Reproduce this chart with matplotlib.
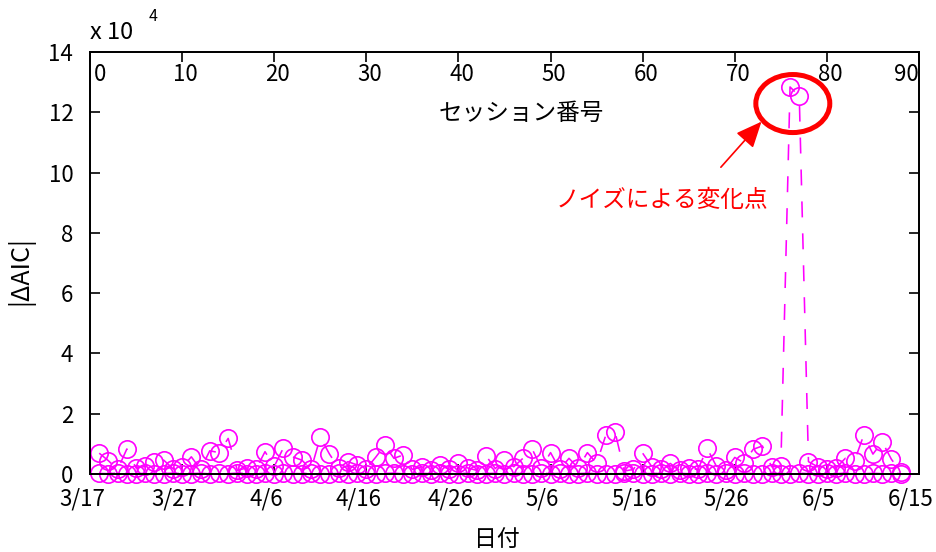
import matplotlib
matplotlib.use("Agg")
import matplotlib.pyplot as plt
from matplotlib.patches import Ellipse
from matplotlib.transforms import ScaledTranslation, blended_transform_factory

plt.rcParams['font.family'] = ['Noto Sans CJK JP', 'DejaVu Sans']

# ---- data -------------------------------------------------------------
# day offset from 3/17 (one session per day)
session_days = list(range(1, 89))

# |dAIC| of the detected change point per session
aic_main = [
    6900, 4400, 1500, 8300, 2000, 2500, 4100, 4600, 1800, 2200,
    5700, 1500, 7700, 7100, 11800, 1200, 2000, 1500, 7400, 2500,
    8700, 5700, 4600, 1500, 12200, 6600, 2000, 4100, 3000, 1800,
    5500, 9500, 5200, 6300, 1500, 2400, 1200, 3000, 1500, 3500,
    2000, 1200, 6000, 1800, 4600, 2400, 5200, 8300, 2000, 7100,
    1500, 5200, 2000, 7100, 3500, 12900, 14000, 1000, 1500, 6900,
    2400, 1500, 3500, 1200, 1900, 1500, 8500, 2600, 1200, 5500,
    3700, 8200, 9300, 2400, 2600, 128400, 125400, 4100, 2400, 1500,
    2000, 5200, 4400, 12900, 6600, 10700, 4900, 800,
]

# |dAIC| of the secondary candidate per session (close to zero)
aic_base = [
    200, 100, 300, 150, 50, 250, 100, 150, 300, 100,
    150, 250, 50, 200, 100, 300, 150, 100, 200, 50,
    250, 150, 100, 300, 150, 50, 200, 100, 250, 150,
    100, 200, 300, 50, 150, 250, 100, 200, 150, 50,
    300, 100, 150, 250, 50, 200, 100, 150, 300, 100,
    200, 50, 150, 250, 100, 150, 50, 200, 300, 100,
    150, 250, 50, 200, 100, 150, 300, 50, 200, 100,
    250, 150, 50, 200, 150, 100, 250, 150, 50, 200,
    100, 300, 150, 50, 250, 100, 200, 150,
]

date_ticks = [0, 10, 20, 30, 40, 50, 60, 70, 80, 90]
date_labels = ['3/17', '3/27', '4/6', '4/16', '4/26', '5/6', '5/16', '5/26', '6/5', '6/15']
session_ticks = [0, 10, 20, 30, 40, 50, 60, 70, 80, 90]
y_ticks = [0, 20000, 40000, 60000, 80000, 100000, 120000, 140000]
y_scale = 10000

# ---- figure -----------------------------------------------------------
W, H = 937, 552
fig = plt.figure(figsize=(W / 100, H / 100), dpi=100)
ax = fig.add_axes([90 / W, 78 / H, 829 / W, 422 / H])

mag = '#FF00FF'
red = '#FF0000'
for series in (aic_base, aic_main):
    ax.plot(session_days, series, color=mag, linestyle='--', dashes=(10, 10),
            linewidth=1.15, marker='o', markersize=12.5, markerfacecolor='none',
            markeredgewidth=1.2, markeredgecolor=mag, clip_on=False, zorder=2)

ax.set_xlim(0, 90)
ax.set_ylim(0, 140000)

for sp in ax.spines.values():
    sp.set_linewidth(1.3)
    sp.set_zorder(3)

ax.set_xticks(date_ticks)
ax.set_xticklabels(date_labels)
ax.set_yticks(y_ticks)
ax.set_yticklabels([f'{v // y_scale:d}' for v in y_ticks])
ax.tick_params(axis='both', direction='in', length=7, width=1.2, labelsize=16)
ax.tick_params(axis='y', right=True, pad=12)
ax.tick_params(axis='x', pad=10)

shift = ScaledTranslation(-8 / 100, 0, fig.dpi_scale_trans)
for lbl in ax.get_xticklabels():
    lbl.set_transform(lbl.get_transform() + shift)

# session-number axis along the top
ax2 = ax.twiny()
ax2.set_xlim(0, 90)
ax2.set_xticks(session_ticks)
ax2.tick_params(axis='x', direction='in', length=7, width=1.2, labeltop=False)
for sp in ax2.spines.values():
    sp.set_linewidth(1.3)

top_tr = blended_transform_factory(ax.transData, ax.transAxes)
for s in session_ticks:
    if s == session_ticks[0]:
        ha, dx = 'left', 4
    elif s == session_ticks[-1]:
        ha, dx = 'right', 0
    else:
        ha, dx = 'center', 3
    ax.text(s, 0.974, str(s), ha=ha, va='top', fontsize=16,
            transform=top_tr + ScaledTranslation(dx / 100, 0, fig.dpi_scale_trans))
ax.text(0.52, 0.855, 'セッション番号', ha='center', va='center', fontsize=17,
        transform=ax.transAxes)

ax.set_xlabel('日付', fontsize=16.5)
ax.xaxis.set_label_coords(0.491, -0.156)
ax.xaxis.label.set_va('center')
ax.set_ylabel('|ΔAIC|', fontsize=18)
ax.yaxis.set_label_coords(-0.084, 0.483)
ax.yaxis.label.set_va('center')

# exponent marker for the y axis
fig.text(90 / W, 1 - 39 / H, 'x 10', fontsize=17, va='baseline', ha='left')
fig.text(149 / W, 1 - 21 / H, '4', fontsize=11.5, va='baseline', ha='left')

# highlight of the noise-induced change points
ax.add_patch(Ellipse((76.3, 122900), width=8.03, height=19250, fill=False,
                     edgecolor=red, linewidth=3.6, clip_on=False, zorder=4))
ax.annotate('', xy=(0.810, 0.835), xytext=(0.761, 0.727),
            xycoords='axes fraction', textcoords='axes fraction',
            arrowprops=dict(arrowstyle='-|>,head_length=1.6,head_width=0.7',
                            mutation_scale=10, color=red, lw=1.2,
                            shrinkA=0, shrinkB=0))
ax.text(0.690, 0.647, 'ノイズによる変化点', color=red, fontsize=17,
        ha='center', va='center', transform=ax.transAxes)

fig.savefig('out.png', dpi=100)
